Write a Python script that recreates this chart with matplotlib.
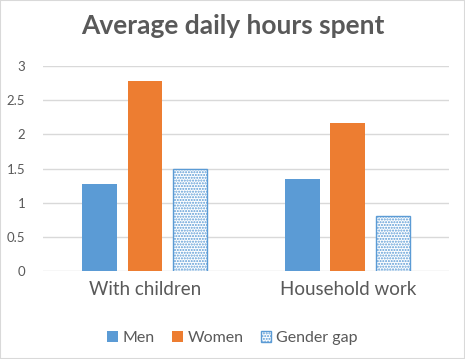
import matplotlib
matplotlib.use("Agg")
import matplotlib.pyplot as plt
from matplotlib.patches import Rectangle
import numpy as np

plt.rcParams['font.family'] = ['Lato', 'DejaVu Sans']

categories = ["With children", "Household work"]
men = [1.28, 1.35]
women = [2.78, 2.16]
gap = [1.50, 0.81]
yticks = [0, 0.5, 1, 1.5, 2, 2.5, 3]
yticklabels = ["0", "0.5", "1", "1.5", "2", "2.5", "3"]

blue = "#5b9bd5"
orange = "#ed7d31"
grey = "#595959"

fig = plt.figure(figsize=(4.65, 3.59), dpi=100)
ax = fig.add_axes([0.0935, 0.245, 0.873, 0.571])

x = np.arange(len(categories))
w = 0.172
step = 0.222
ax.bar(x - step, men, w, color=blue, label="Men", zorder=3)
ax.bar(x, women, w, color=orange, label="Women", zorder=3)
plt.rcParams['hatch.color'] = blue
ax.bar(x + step, gap, w, facecolor="white", edgecolor=blue, hatch="......",
       linewidth=1.0, label="Gender gap", zorder=3)

ax.set_xlim(-0.5, 1.5)
ax.set_ylim(0, 3)
ax.set_yticks(yticks)
ax.set_yticklabels(yticklabels, color=grey, fontsize=9.5)
ax.set_xticks(x)
ax.set_xticklabels(categories, color=grey, fontsize=13.5)
ax.tick_params(axis='both', length=0)
ax.tick_params(axis='y', pad=13)
ax.tick_params(axis='x', pad=7)
ax.grid(axis='y', color="#d9d9d9", linewidth=1, zorder=0)
for s in ax.spines.values():
    s.set_visible(False)

fig.suptitle("Average daily hours spent", x=0.5, y=0.96, fontsize=19,
             fontweight='bold', color=grey)

fig.legend(loc='center', bbox_to_anchor=(0.5, 0.058), ncol=3, frameon=False,
           fontsize=11.5, labelcolor=grey, handlelength=0.65, handleheight=0.65,
           handletextpad=0.3, columnspacing=1.1)

fig.patches.append(Rectangle((0, 0), 1, 1, transform=fig.transFigure,
                             fill=False, edgecolor="#d9d9d9", linewidth=1.5))

fig.savefig("out.png", dpi=100)
